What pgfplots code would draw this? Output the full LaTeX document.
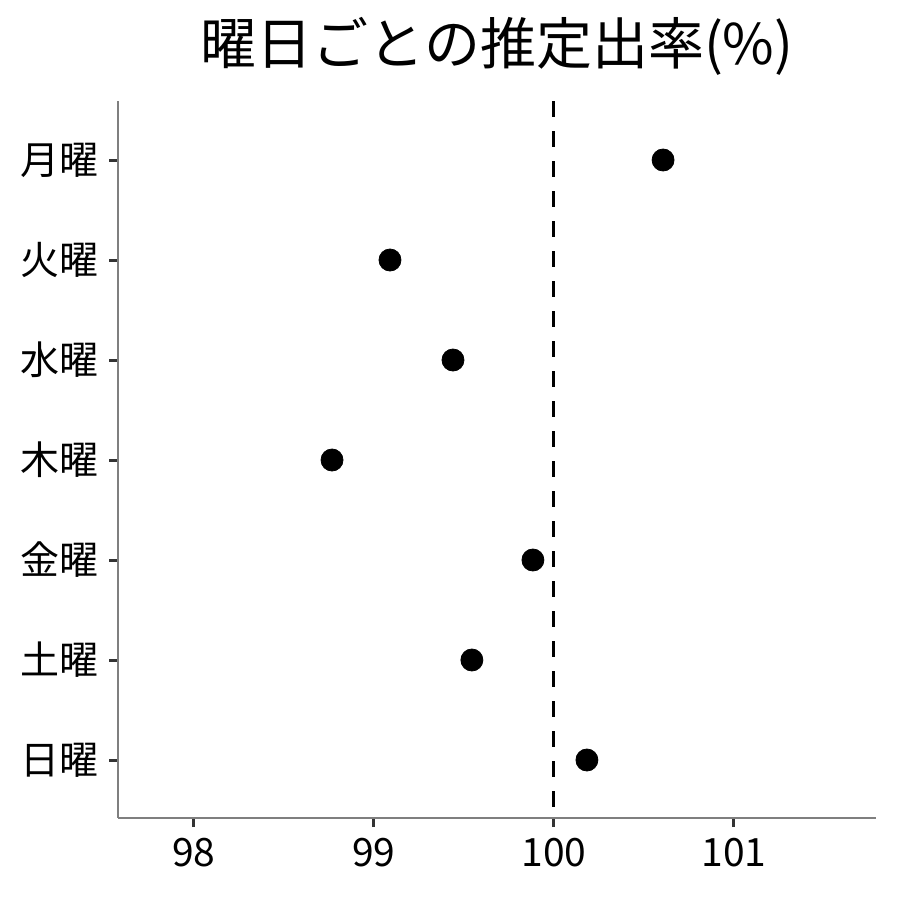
\documentclass[border=0pt]{standalone}
\usepackage{fontspec}
\setmainfont{Noto Sans CJK JP}
\usepackage{pgfplots}
\pgfplotsset{compat=1.18}
\definecolor{axgray}{HTML}{7F7F7F}
\definecolor{tickgray}{HTML}{333333}

\begin{document}
\begin{tikzpicture}[x=1pt,y=1pt]
  % canvas 900px = 450pt
  \useasboundingbox (0,0) rectangle (450,450);
  \node[font=\fontsize{28}{32}\selectfont, anchor=center] at (248.5,427) {曜日ごとの推定出率(\%)};
  \begin{axis}[
      at={(59pt,41pt)}, anchor=south west,
      scale only axis,
      width=379pt, height=358.5pt,
      xmin=97.578, xmax=101.789,
      ymin=0.41, ymax=7.58,
      y dir=reverse,
      axis lines*=left,
      axis line style={axgray, line width=0.6pt, -},
      xtick={98,99,100,101},
      ytick={1,2,3,4,5,6,7},
      yticklabels={月曜,火曜,水曜,木曜,金曜,土曜,日曜},
      tick align=outside,
      major tick length=4.5pt,
      major tick style={draw=tickgray, line width=1.5pt},
      xtick style={draw=tickgray, line width=1.5pt},
      ytick style={draw=tickgray, line width=1.5pt},
      ticklabel style={font=\fontsize{19.5}{23}\selectfont, text=black},
      xticklabel style={yshift=-2pt},
      yticklabel style={xshift=-1.5pt},
      /pgf/number format/assume math mode=true,
      clip=false,
    ]
    \addplot[black, line width=1.5pt, dash pattern=on 8pt off 7pt] coordinates {(100,0.41) (100,7.58)};
    \addplot[only marks, mark=*, mark size=5.5pt, black] coordinates {
      (100.606,1)
      (99.089,2)
      (99.439,3)
      (98.767,4)
      (99.883,5)
      (99.544,6)
      (100.183,7)
    };
  \end{axis}
\end{tikzpicture}
\end{document}
